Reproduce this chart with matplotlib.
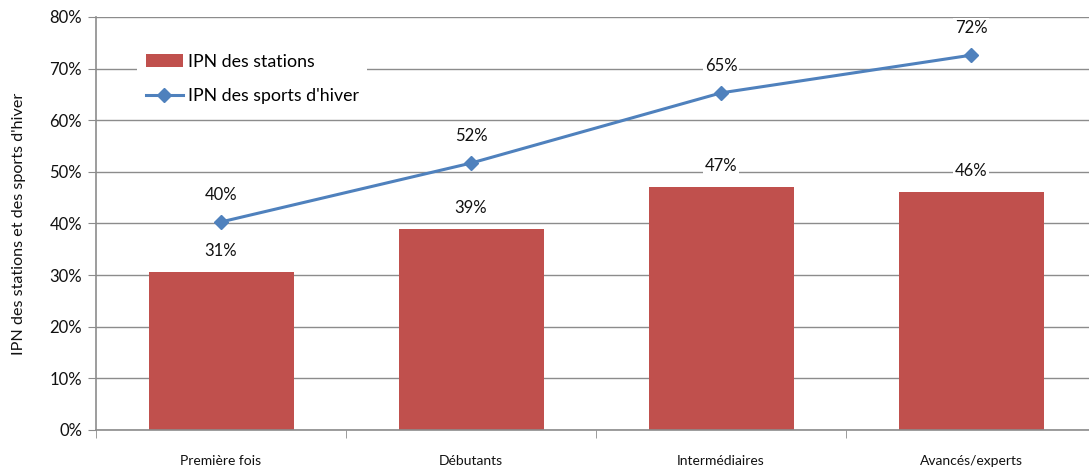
import matplotlib
matplotlib.use("Agg")
import matplotlib.pyplot as plt
import numpy as np

categories = ["Première fois", "Débutants", "Intermédiaires", "Avancés/experts"]
ipn_stations = [30.6, 38.9, 47.1, 46.1]
ipn_sports = [40.3, 51.7, 65.3, 72.6]
labels_stations = ["31%", "39%", "47%", "46%"]
labels_sports = ["40%", "52%", "65%", "72%"]

plt.rcParams['font.family'] = ['Lato', 'DejaVu Sans']

bar_color = '#C0504D'
line_color = '#4F81BD'
grid_color = '#8C8C8C'
text_color = '#111111'

fig = plt.figure(figsize=(10.89, 4.70), dpi=100)
ax = fig.add_axes([96/1089, 40/470, 1000/1089, 413/470])

x = np.arange(len(categories))
bars = ax.bar(x, ipn_stations, width=0.58, color=bar_color, zorder=2)
line, = ax.plot(x, ipn_sports, color=line_color, lw=2.2, marker='D', markersize=7, zorder=3)

box = dict(facecolor='white', edgecolor='none', pad=1.5)
for i in range(len(categories)):
    ax.annotate(labels_stations[i], (x[i], ipn_stations[i]), xytext=(0, 21),
                textcoords='offset pixels', ha='center', va='center',
                fontsize=12, color=text_color, bbox=box, zorder=4)
    ax.annotate(labels_sports[i], (x[i], ipn_sports[i]), xytext=(0, 27),
                textcoords='offset pixels', ha='center', va='center',
                fontsize=12, color=text_color, bbox=box, zorder=4)

ax.set_xlim(-0.5, len(categories) - 0.5)
ax.set_ylim(0, 80)
ax.set_yticks(np.arange(0, 81, 10))
ax.set_yticklabels([f"{v}%" for v in range(0, 81, 10)], fontsize=12, color=text_color)
ax.set_xticks(x)
ax.set_xticklabels(categories, fontsize=10, color=text_color)
ax.set_xticks(np.arange(len(categories)) - 0.5, minor=True)
ax.tick_params(axis='x', which='major', length=0, pad=18)
ax.tick_params(axis='x', which='minor', length=6, color=grid_color, direction='out')
ax.tick_params(axis='y', length=6, color=grid_color, direction='out', pad=4)

ax.grid(axis='y', color=grid_color, lw=1, zorder=0)
ax.set_axisbelow(True)
for s in ['top', 'right']:
    ax.spines[s].set_visible(False)
ax.spines['left'].set_color(grid_color)
ax.spines['bottom'].set_color(grid_color)
ax.spines['left'].set_linewidth(1.2)
ax.spines['bottom'].set_linewidth(1.2)

ax.set_ylabel("IPN des stations et des sports d'hiver", fontsize=11.6, color=text_color, labelpad=17)

leg = ax.legend([bars, line], ["IPN des stations", "IPN des sports d'hiver"],
                loc='upper left', bbox_to_anchor=(128/1089, 1 - 36/470),
                bbox_transform=fig.transFigure, frameon=True, fontsize=12.8,
                handlelength=2.1, labelspacing=1.05, handletextpad=0.25,
                borderpad=0.5, fancybox=False)
leg.get_frame().set_facecolor('white')
leg.get_frame().set_edgecolor('none')
leg.get_frame().set_alpha(1)

fig.savefig("out.png", dpi=100)
